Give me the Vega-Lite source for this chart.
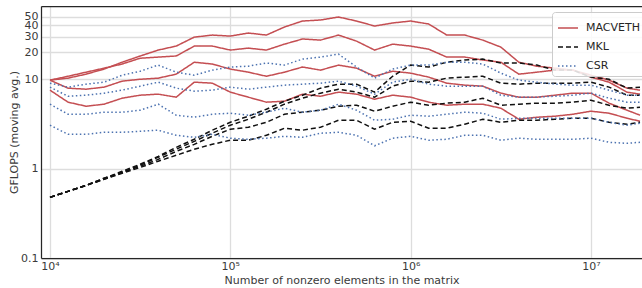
{
"$schema":"https://vega.github.io/schema/vega-lite/v6.json",
"width":601,"height":252,
"autosize":{"type":"none"},
"padding":{"left":41,"top":6,"right":0,"bottom":30},
"background":"white",
"config":{"view":{"stroke":null},"font":"DejaVu Sans",
"axis":{"labelFont":"DejaVu Sans","titleFont":"DejaVu Sans","labelFontSize":11,"titleFontSize":11,"titleFontWeight":"normal","labelColor":"#3a3a3a","titleColor":"#3a3a3a","gridColor":"#dddddd","gridWidth":1.3,"domainColor":"#262626","domainWidth":1.25,"ticks":false}},
"datasets":{"pts":[
{"lib":"MACVETH","s":"M1","n":10000,"g":9.77},{"lib":"MACVETH","s":"M1","n":12589,"g":10.29},{"lib":"MACVETH","s":"M1","n":15849,"g":11.4},{"lib":"MACVETH","s":"M1","n":19953,"g":13.0},{"lib":"MACVETH","s":"M1","n":25119,"g":15.5},{"lib":"MACVETH","s":"M1","n":31623,"g":18.2},{"lib":"MACVETH","s":"M1","n":39811,"g":21.2},{"lib":"MACVETH","s":"M1","n":50119,"g":23.5},{"lib":"MACVETH","s":"M1","n":63096,"g":29.6},{"lib":"MACVETH","s":"M1","n":79433,"g":31.2},{"lib":"MACVETH","s":"M1","n":100000,"g":30.4},{"lib":"MACVETH","s":"M1","n":125893,"g":32.9},{"lib":"MACVETH","s":"M1","n":158489,"g":31.2},{"lib":"MACVETH","s":"M1","n":199526,"g":38.4},{"lib":"MACVETH","s":"M1","n":251189,"g":44.8},{"lib":"MACVETH","s":"M1","n":316228,"g":46.0},{"lib":"MACVETH","s":"M1","n":398107,"g":49.7},{"lib":"MACVETH","s":"M1","n":501187,"g":44.8},{"lib":"MACVETH","s":"M1","n":630957,"g":39.4},{"lib":"MACVETH","s":"M1","n":794328,"g":42.6},{"lib":"MACVETH","s":"M1","n":1000000,"g":44.8},{"lib":"MACVETH","s":"M1","n":1258925,"g":41.5},{"lib":"MACVETH","s":"M1","n":1584893,"g":31.2},{"lib":"MACVETH","s":"M1","n":1995262,"g":31.2},{"lib":"MACVETH","s":"M1","n":2511886,"g":27.4},{"lib":"MACVETH","s":"M1","n":3162278,"g":22.9},{"lib":"MACVETH","s":"M1","n":3981072,"g":15.5},{"lib":"MACVETH","s":"M1","n":5011872,"g":14.0},{"lib":"MACVETH","s":"M1","n":6309573,"g":13.3},{"lib":"MACVETH","s":"M1","n":7943282,"g":12.65},{"lib":"MACVETH","s":"M1","n":10000000,"g":11.1},{"lib":"MACVETH","s":"M1","n":12589254,"g":9.77},{"lib":"MACVETH","s":"M1","n":15848932,"g":7.95},{"lib":"MACVETH","s":"M1","n":18700000,"g":7.55},
{"lib":"MACVETH","s":"M2","n":10000,"g":9.77},{"lib":"MACVETH","s":"M2","n":12589,"g":10.8},{"lib":"MACVETH","s":"M2","n":15849,"g":12.0},{"lib":"MACVETH","s":"M2","n":19953,"g":13.3},{"lib":"MACVETH","s":"M2","n":25119,"g":14.8},{"lib":"MACVETH","s":"M2","n":31623,"g":17.2},{"lib":"MACVETH","s":"M2","n":39811,"g":17.7},{"lib":"MACVETH","s":"M2","n":50119,"g":18.2},{"lib":"MACVETH","s":"M2","n":63096,"g":23.5},{"lib":"MACVETH","s":"M2","n":79433,"g":23.5},{"lib":"MACVETH","s":"M2","n":100000,"g":21.2},{"lib":"MACVETH","s":"M2","n":125893,"g":22.3},{"lib":"MACVETH","s":"M2","n":158489,"g":21.2},{"lib":"MACVETH","s":"M2","n":199526,"g":24.7},{"lib":"MACVETH","s":"M2","n":251189,"g":28.2},{"lib":"MACVETH","s":"M2","n":316228,"g":27.4},{"lib":"MACVETH","s":"M2","n":398107,"g":31.2},{"lib":"MACVETH","s":"M2","n":501187,"g":26.7},{"lib":"MACVETH","s":"M2","n":630957,"g":21.2},{"lib":"MACVETH","s":"M2","n":794328,"g":24.7},{"lib":"MACVETH","s":"M2","n":1000000,"g":23.5},{"lib":"MACVETH","s":"M2","n":1258925,"g":21.7},{"lib":"MACVETH","s":"M2","n":1584893,"g":17.7},{"lib":"MACVETH","s":"M2","n":1995262,"g":17.7},{"lib":"MACVETH","s":"M2","n":2511886,"g":16.4},{"lib":"MACVETH","s":"M2","n":3162278,"g":15.5},{"lib":"MACVETH","s":"M2","n":3981072,"g":11.4},{"lib":"MACVETH","s":"M2","n":5011872,"g":12.0},{"lib":"MACVETH","s":"M2","n":6309573,"g":12.65},{"lib":"MACVETH","s":"M2","n":7943282,"g":12.65},{"lib":"MACVETH","s":"M2","n":10000000,"g":10.56},{"lib":"MACVETH","s":"M2","n":12589254,"g":9.28},{"lib":"MACVETH","s":"M2","n":15848932,"g":7.17},{"lib":"MACVETH","s":"M2","n":18700000,"g":6.81},
{"lib":"MACVETH","s":"M3","n":10000,"g":9.77},{"lib":"MACVETH","s":"M3","n":12589,"g":7.95},{"lib":"MACVETH","s":"M3","n":15849,"g":7.74},{"lib":"MACVETH","s":"M3","n":19953,"g":8.16},{"lib":"MACVETH","s":"M3","n":25119,"g":9.52},{"lib":"MACVETH","s":"M3","n":31623,"g":10.0},{"lib":"MACVETH","s":"M3","n":39811,"g":10.29},{"lib":"MACVETH","s":"M3","n":50119,"g":11.4},{"lib":"MACVETH","s":"M3","n":63096,"g":15.5},{"lib":"MACVETH","s":"M3","n":79433,"g":14.8},{"lib":"MACVETH","s":"M3","n":100000,"g":13.0},{"lib":"MACVETH","s":"M3","n":125893,"g":12.0},{"lib":"MACVETH","s":"M3","n":158489,"g":10.8},{"lib":"MACVETH","s":"M3","n":199526,"g":12.0},{"lib":"MACVETH","s":"M3","n":251189,"g":13.7},{"lib":"MACVETH","s":"M3","n":316228,"g":12.65},{"lib":"MACVETH","s":"M3","n":398107,"g":14.4},{"lib":"MACVETH","s":"M3","n":501187,"g":13.3},{"lib":"MACVETH","s":"M3","n":630957,"g":10.8},{"lib":"MACVETH","s":"M3","n":794328,"g":12.3},{"lib":"MACVETH","s":"M3","n":1000000,"g":11.7},{"lib":"MACVETH","s":"M3","n":1258925,"g":10.56},{"lib":"MACVETH","s":"M3","n":1584893,"g":9.04},{"lib":"MACVETH","s":"M3","n":1995262,"g":8.59},{"lib":"MACVETH","s":"M3","n":2511886,"g":8.37},{"lib":"MACVETH","s":"M3","n":3162278,"g":6.99},{"lib":"MACVETH","s":"M3","n":3981072,"g":6.30},{"lib":"MACVETH","s":"M3","n":5011872,"g":6.30},{"lib":"MACVETH","s":"M3","n":6309573,"g":6.63},{"lib":"MACVETH","s":"M3","n":7943282,"g":6.99},{"lib":"MACVETH","s":"M3","n":10000000,"g":6.99},{"lib":"MACVETH","s":"M3","n":12589254,"g":5.40},{"lib":"MACVETH","s":"M3","n":15848932,"g":4.50},{"lib":"MACVETH","s":"M3","n":18700000,"g":3.96},
{"lib":"MACVETH","s":"M4","n":10000,"g":7.55},{"lib":"MACVETH","s":"M4","n":12589,"g":5.54},{"lib":"MACVETH","s":"M4","n":15849,"g":4.99},{"lib":"MACVETH","s":"M4","n":19953,"g":5.26},{"lib":"MACVETH","s":"M4","n":25119,"g":6.14},{"lib":"MACVETH","s":"M4","n":31623,"g":6.63},{"lib":"MACVETH","s":"M4","n":39811,"g":6.81},{"lib":"MACVETH","s":"M4","n":50119,"g":6.30},{"lib":"MACVETH","s":"M4","n":63096,"g":9.28},{"lib":"MACVETH","s":"M4","n":79433,"g":9.04},{"lib":"MACVETH","s":"M4","n":100000,"g":7.17},{"lib":"MACVETH","s":"M4","n":125893,"g":6.30},{"lib":"MACVETH","s":"M4","n":158489,"g":5.54},{"lib":"MACVETH","s":"M4","n":199526,"g":5.68},{"lib":"MACVETH","s":"M4","n":251189,"g":6.81},{"lib":"MACVETH","s":"M4","n":316228,"g":6.46},{"lib":"MACVETH","s":"M4","n":398107,"g":7.17},{"lib":"MACVETH","s":"M4","n":501187,"g":6.81},{"lib":"MACVETH","s":"M4","n":630957,"g":5.98},{"lib":"MACVETH","s":"M4","n":794328,"g":6.63},{"lib":"MACVETH","s":"M4","n":1000000,"g":6.30},{"lib":"MACVETH","s":"M4","n":1258925,"g":5.54},{"lib":"MACVETH","s":"M4","n":1584893,"g":5.12},{"lib":"MACVETH","s":"M4","n":1995262,"g":5.26},{"lib":"MACVETH","s":"M4","n":2511886,"g":5.26},{"lib":"MACVETH","s":"M4","n":3162278,"g":4.74},{"lib":"MACVETH","s":"M4","n":3981072,"g":3.57},{"lib":"MACVETH","s":"M4","n":5011872,"g":3.76},{"lib":"MACVETH","s":"M4","n":6309573,"g":3.86},{"lib":"MACVETH","s":"M4","n":7943282,"g":4.06},{"lib":"MACVETH","s":"M4","n":10000000,"g":4.39},{"lib":"MACVETH","s":"M4","n":12589254,"g":4.17},{"lib":"MACVETH","s":"M4","n":15848932,"g":3.66},{"lib":"MACVETH","s":"M4","n":18700000,"g":3.39},
{"lib":"MKL","s":"K1","n":10000,"g":0.477},{"lib":"MKL","s":"K1","n":12589,"g":0.557},{"lib":"MKL","s":"K1","n":15849,"g":0.650},{"lib":"MKL","s":"K1","n":19953,"g":0.779},{"lib":"MKL","s":"K1","n":25119,"g":0.933},{"lib":"MKL","s":"K1","n":31623,"g":1.12},{"lib":"MKL","s":"K1","n":39811,"g":1.37},{"lib":"MKL","s":"K1","n":50119,"g":1.73},{"lib":"MKL","s":"K1","n":63096,"g":2.13},{"lib":"MKL","s":"K1","n":79433,"g":2.69},{"lib":"MKL","s":"K1","n":100000,"g":3.30},{"lib":"MKL","s":"K1","n":125893,"g":3.86},{"lib":"MKL","s":"K1","n":158489,"g":4.62},{"lib":"MKL","s":"K1","n":199526,"g":5.68},{"lib":"MKL","s":"K1","n":251189,"g":6.63},{"lib":"MKL","s":"K1","n":316228,"g":7.95},{"lib":"MKL","s":"K1","n":398107,"g":8.81},{"lib":"MKL","s":"K1","n":501187,"g":8.81},{"lib":"MKL","s":"K1","n":630957,"g":7.17},{"lib":"MKL","s":"K1","n":794328,"g":10.8},{"lib":"MKL","s":"K1","n":1000000,"g":14.4},{"lib":"MKL","s":"K1","n":1258925,"g":13.7},{"lib":"MKL","s":"K1","n":1584893,"g":15.5},{"lib":"MKL","s":"K1","n":1995262,"g":16.4},{"lib":"MKL","s":"K1","n":2511886,"g":16.8},{"lib":"MKL","s":"K1","n":3162278,"g":15.2},{"lib":"MKL","s":"K1","n":3981072,"g":15.2},{"lib":"MKL","s":"K1","n":5011872,"g":14.4},{"lib":"MKL","s":"K1","n":6309573,"g":12.65},{"lib":"MKL","s":"K1","n":7943282,"g":12.65},{"lib":"MKL","s":"K1","n":10000000,"g":10.56},{"lib":"MKL","s":"K1","n":12589254,"g":10.0},{"lib":"MKL","s":"K1","n":15848932,"g":7.95},{"lib":"MKL","s":"K1","n":18700000,"g":8.16},
{"lib":"MKL","s":"K2","n":10000,"g":0.477},{"lib":"MKL","s":"K2","n":12589,"g":0.557},{"lib":"MKL","s":"K2","n":15849,"g":0.650},{"lib":"MKL","s":"K2","n":19953,"g":0.779},{"lib":"MKL","s":"K2","n":25119,"g":0.909},{"lib":"MKL","s":"K2","n":31623,"g":1.09},{"lib":"MKL","s":"K2","n":39811,"g":1.34},{"lib":"MKL","s":"K2","n":50119,"g":1.65},{"lib":"MKL","s":"K2","n":63096,"g":2.02},{"lib":"MKL","s":"K2","n":79433,"g":2.49},{"lib":"MKL","s":"K2","n":100000,"g":3.06},{"lib":"MKL","s":"K2","n":125893,"g":3.57},{"lib":"MKL","s":"K2","n":158489,"g":4.28},{"lib":"MKL","s":"K2","n":199526,"g":5.26},{"lib":"MKL","s":"K2","n":251189,"g":6.14},{"lib":"MKL","s":"K2","n":316228,"g":6.99},{"lib":"MKL","s":"K2","n":398107,"g":7.74},{"lib":"MKL","s":"K2","n":501187,"g":7.17},{"lib":"MKL","s":"K2","n":630957,"g":6.30},{"lib":"MKL","s":"K2","n":794328,"g":8.37},{"lib":"MKL","s":"K2","n":1000000,"g":9.52},{"lib":"MKL","s":"K2","n":1258925,"g":9.28},{"lib":"MKL","s":"K2","n":1584893,"g":10.29},{"lib":"MKL","s":"K2","n":1995262,"g":10.56},{"lib":"MKL","s":"K2","n":2511886,"g":10.8},{"lib":"MKL","s":"K2","n":3162278,"g":9.04},{"lib":"MKL","s":"K2","n":3981072,"g":8.81},{"lib":"MKL","s":"K2","n":5011872,"g":9.04},{"lib":"MKL","s":"K2","n":6309573,"g":9.04},{"lib":"MKL","s":"K2","n":7943282,"g":9.04},{"lib":"MKL","s":"K2","n":10000000,"g":9.28},{"lib":"MKL","s":"K2","n":12589254,"g":8.16},{"lib":"MKL","s":"K2","n":15848932,"g":6.63},{"lib":"MKL","s":"K2","n":18700000,"g":6.63},
{"lib":"MKL","s":"K3","n":10000,"g":0.477},{"lib":"MKL","s":"K3","n":12589,"g":0.557},{"lib":"MKL","s":"K3","n":15849,"g":0.650},{"lib":"MKL","s":"K3","n":19953,"g":0.759},{"lib":"MKL","s":"K3","n":25119,"g":0.909},{"lib":"MKL","s":"K3","n":31623,"g":1.06},{"lib":"MKL","s":"K3","n":39811,"g":1.27},{"lib":"MKL","s":"K3","n":50119,"g":1.56},{"lib":"MKL","s":"K3","n":63096,"g":1.87},{"lib":"MKL","s":"K3","n":79433,"g":2.30},{"lib":"MKL","s":"K3","n":100000,"g":2.76},{"lib":"MKL","s":"K3","n":125893,"g":2.90},{"lib":"MKL","s":"K3","n":158489,"g":3.30},{"lib":"MKL","s":"K3","n":199526,"g":4.06},{"lib":"MKL","s":"K3","n":251189,"g":4.28},{"lib":"MKL","s":"K3","n":316228,"g":4.50},{"lib":"MKL","s":"K3","n":398107,"g":4.99},{"lib":"MKL","s":"K3","n":501187,"g":5.12},{"lib":"MKL","s":"K3","n":630957,"g":4.39},{"lib":"MKL","s":"K3","n":794328,"g":4.99},{"lib":"MKL","s":"K3","n":1000000,"g":5.54},{"lib":"MKL","s":"K3","n":1258925,"g":5.12},{"lib":"MKL","s":"K3","n":1584893,"g":5.40},{"lib":"MKL","s":"K3","n":1995262,"g":5.54},{"lib":"MKL","s":"K3","n":2511886,"g":6.14},{"lib":"MKL","s":"K3","n":3162278,"g":5.12},{"lib":"MKL","s":"K3","n":3981072,"g":5.26},{"lib":"MKL","s":"K3","n":5011872,"g":5.40},{"lib":"MKL","s":"K3","n":6309573,"g":5.40},{"lib":"MKL","s":"K3","n":7943282,"g":5.54},{"lib":"MKL","s":"K3","n":10000000,"g":5.83},{"lib":"MKL","s":"K3","n":12589254,"g":5.12},{"lib":"MKL","s":"K3","n":15848932,"g":4.74},{"lib":"MKL","s":"K3","n":18700000,"g":4.87},
{"lib":"MKL","s":"K4","n":10000,"g":0.477},{"lib":"MKL","s":"K4","n":12589,"g":0.557},{"lib":"MKL","s":"K4","n":15849,"g":0.650},{"lib":"MKL","s":"K4","n":19953,"g":0.759},{"lib":"MKL","s":"K4","n":25119,"g":0.886},{"lib":"MKL","s":"K4","n":31623,"g":1.03},{"lib":"MKL","s":"K4","n":39811,"g":1.21},{"lib":"MKL","s":"K4","n":50119,"g":1.41},{"lib":"MKL","s":"K4","n":63096,"g":1.65},{"lib":"MKL","s":"K4","n":79433,"g":1.87},{"lib":"MKL","s":"K4","n":100000,"g":2.08},{"lib":"MKL","s":"K4","n":125893,"g":2.08},{"lib":"MKL","s":"K4","n":158489,"g":2.36},{"lib":"MKL","s":"K4","n":199526,"g":2.83},{"lib":"MKL","s":"K4","n":251189,"g":2.69},{"lib":"MKL","s":"K4","n":316228,"g":2.90},{"lib":"MKL","s":"K4","n":398107,"g":3.48},{"lib":"MKL","s":"K4","n":501187,"g":3.48},{"lib":"MKL","s":"K4","n":630957,"g":2.76},{"lib":"MKL","s":"K4","n":794328,"g":3.30},{"lib":"MKL","s":"K4","n":1000000,"g":3.39},{"lib":"MKL","s":"K4","n":1258925,"g":2.83},{"lib":"MKL","s":"K4","n":1584893,"g":2.83},{"lib":"MKL","s":"K4","n":1995262,"g":3.14},{"lib":"MKL","s":"K4","n":2511886,"g":3.57},{"lib":"MKL","s":"K4","n":3162278,"g":3.30},{"lib":"MKL","s":"K4","n":3981072,"g":3.48},{"lib":"MKL","s":"K4","n":5011872,"g":3.48},{"lib":"MKL","s":"K4","n":6309573,"g":3.57},{"lib":"MKL","s":"K4","n":7943282,"g":3.66},{"lib":"MKL","s":"K4","n":10000000,"g":3.66},{"lib":"MKL","s":"K4","n":12589254,"g":3.30},{"lib":"MKL","s":"K4","n":15848932,"g":3.14},{"lib":"MKL","s":"K4","n":18700000,"g":3.30},
{"lib":"CSR","s":"C1","n":10000,"g":9.04},{"lib":"CSR","s":"C1","n":12589,"g":8.16},{"lib":"CSR","s":"C1","n":15849,"g":8.81},{"lib":"CSR","s":"C1","n":19953,"g":9.28},{"lib":"CSR","s":"C1","n":25119,"g":11.1},{"lib":"CSR","s":"C1","n":31623,"g":12.3},{"lib":"CSR","s":"C1","n":39811,"g":14.4},{"lib":"CSR","s":"C1","n":50119,"g":12.0},{"lib":"CSR","s":"C1","n":63096,"g":11.1},{"lib":"CSR","s":"C1","n":79433,"g":12.65},{"lib":"CSR","s":"C1","n":100000,"g":13.7},{"lib":"CSR","s":"C1","n":125893,"g":14.0},{"lib":"CSR","s":"C1","n":158489,"g":15.2},{"lib":"CSR","s":"C1","n":199526,"g":14.4},{"lib":"CSR","s":"C1","n":251189,"g":16.8},{"lib":"CSR","s":"C1","n":316228,"g":17.7},{"lib":"CSR","s":"C1","n":398107,"g":19.1},{"lib":"CSR","s":"C1","n":501187,"g":13.7},{"lib":"CSR","s":"C1","n":630957,"g":10.29},{"lib":"CSR","s":"C1","n":794328,"g":13.0},{"lib":"CSR","s":"C1","n":1000000,"g":14.4},{"lib":"CSR","s":"C1","n":1258925,"g":14.4},{"lib":"CSR","s":"C1","n":1584893,"g":15.5},{"lib":"CSR","s":"C1","n":1995262,"g":15.5},{"lib":"CSR","s":"C1","n":2511886,"g":14.8},{"lib":"CSR","s":"C1","n":3162278,"g":11.7},{"lib":"CSR","s":"C1","n":3981072,"g":9.77},{"lib":"CSR","s":"C1","n":5011872,"g":9.28},{"lib":"CSR","s":"C1","n":6309573,"g":8.81},{"lib":"CSR","s":"C1","n":7943282,"g":8.59},{"lib":"CSR","s":"C1","n":10000000,"g":8.59},{"lib":"CSR","s":"C1","n":12589254,"g":7.55},{"lib":"CSR","s":"C1","n":15848932,"g":6.63},{"lib":"CSR","s":"C1","n":18700000,"g":6.63},
{"lib":"CSR","s":"C2","n":10000,"g":8.16},{"lib":"CSR","s":"C2","n":12589,"g":6.46},{"lib":"CSR","s":"C2","n":15849,"g":6.63},{"lib":"CSR","s":"C2","n":19953,"g":6.99},{"lib":"CSR","s":"C2","n":25119,"g":7.55},{"lib":"CSR","s":"C2","n":31623,"g":8.37},{"lib":"CSR","s":"C2","n":39811,"g":9.28},{"lib":"CSR","s":"C2","n":50119,"g":7.95},{"lib":"CSR","s":"C2","n":63096,"g":7.36},{"lib":"CSR","s":"C2","n":79433,"g":7.55},{"lib":"CSR","s":"C2","n":100000,"g":8.16},{"lib":"CSR","s":"C2","n":125893,"g":7.74},{"lib":"CSR","s":"C2","n":158489,"g":8.16},{"lib":"CSR","s":"C2","n":199526,"g":8.59},{"lib":"CSR","s":"C2","n":251189,"g":8.81},{"lib":"CSR","s":"C2","n":316228,"g":9.04},{"lib":"CSR","s":"C2","n":398107,"g":9.52},{"lib":"CSR","s":"C2","n":501187,"g":8.37},{"lib":"CSR","s":"C2","n":630957,"g":6.81},{"lib":"CSR","s":"C2","n":794328,"g":9.28},{"lib":"CSR","s":"C2","n":1000000,"g":10.0},{"lib":"CSR","s":"C2","n":1258925,"g":8.81},{"lib":"CSR","s":"C2","n":1584893,"g":8.37},{"lib":"CSR","s":"C2","n":1995262,"g":8.37},{"lib":"CSR","s":"C2","n":2511886,"g":8.37},{"lib":"CSR","s":"C2","n":3162278,"g":6.63},{"lib":"CSR","s":"C2","n":3981072,"g":6.30},{"lib":"CSR","s":"C2","n":5011872,"g":6.30},{"lib":"CSR","s":"C2","n":6309573,"g":6.46},{"lib":"CSR","s":"C2","n":7943282,"g":6.63},{"lib":"CSR","s":"C2","n":10000000,"g":6.99},{"lib":"CSR","s":"C2","n":12589254,"g":6.14},{"lib":"CSR","s":"C2","n":15848932,"g":5.54},{"lib":"CSR","s":"C2","n":18700000,"g":5.54},
{"lib":"CSR","s":"C3","n":10000,"g":5.26},{"lib":"CSR","s":"C3","n":12589,"g":4.06},{"lib":"CSR","s":"C3","n":15849,"g":4.06},{"lib":"CSR","s":"C3","n":19953,"g":4.28},{"lib":"CSR","s":"C3","n":25119,"g":4.28},{"lib":"CSR","s":"C3","n":31623,"g":4.50},{"lib":"CSR","s":"C3","n":39811,"g":5.26},{"lib":"CSR","s":"C3","n":50119,"g":3.96},{"lib":"CSR","s":"C3","n":63096,"g":3.76},{"lib":"CSR","s":"C3","n":79433,"g":4.06},{"lib":"CSR","s":"C3","n":100000,"g":4.17},{"lib":"CSR","s":"C3","n":125893,"g":3.96},{"lib":"CSR","s":"C3","n":158489,"g":4.28},{"lib":"CSR","s":"C3","n":199526,"g":4.74},{"lib":"CSR","s":"C3","n":251189,"g":4.28},{"lib":"CSR","s":"C3","n":316228,"g":4.50},{"lib":"CSR","s":"C3","n":398107,"g":5.26},{"lib":"CSR","s":"C3","n":501187,"g":4.50},{"lib":"CSR","s":"C3","n":630957,"g":3.48},{"lib":"CSR","s":"C3","n":794328,"g":3.57},{"lib":"CSR","s":"C3","n":1000000,"g":3.96},{"lib":"CSR","s":"C3","n":1258925,"g":3.86},{"lib":"CSR","s":"C3","n":1584893,"g":4.06},{"lib":"CSR","s":"C3","n":1995262,"g":4.28},{"lib":"CSR","s":"C3","n":2511886,"g":4.17},{"lib":"CSR","s":"C3","n":3162278,"g":3.57},{"lib":"CSR","s":"C3","n":3981072,"g":3.66},{"lib":"CSR","s":"C3","n":5011872,"g":3.66},{"lib":"CSR","s":"C3","n":6309573,"g":3.66},{"lib":"CSR","s":"C3","n":7943282,"g":3.66},{"lib":"CSR","s":"C3","n":10000000,"g":3.66},{"lib":"CSR","s":"C3","n":12589254,"g":3.30},{"lib":"CSR","s":"C3","n":15848932,"g":3.06},{"lib":"CSR","s":"C3","n":18700000,"g":3.22},
{"lib":"CSR","s":"C4","n":10000,"g":3.06},{"lib":"CSR","s":"C4","n":12589,"g":2.42},{"lib":"CSR","s":"C4","n":15849,"g":2.42},{"lib":"CSR","s":"C4","n":19953,"g":2.55},{"lib":"CSR","s":"C4","n":25119,"g":2.55},{"lib":"CSR","s":"C4","n":31623,"g":2.62},{"lib":"CSR","s":"C4","n":39811,"g":2.69},{"lib":"CSR","s":"C4","n":50119,"g":2.36},{"lib":"CSR","s":"C4","n":63096,"g":2.24},{"lib":"CSR","s":"C4","n":79433,"g":2.42},{"lib":"CSR","s":"C4","n":100000,"g":2.19},{"lib":"CSR","s":"C4","n":125893,"g":2.13},{"lib":"CSR","s":"C4","n":158489,"g":2.19},{"lib":"CSR","s":"C4","n":199526,"g":2.30},{"lib":"CSR","s":"C4","n":251189,"g":2.24},{"lib":"CSR","s":"C4","n":316228,"g":2.49},{"lib":"CSR","s":"C4","n":398107,"g":2.55},{"lib":"CSR","s":"C4","n":501187,"g":2.36},{"lib":"CSR","s":"C4","n":630957,"g":1.8},{"lib":"CSR","s":"C4","n":794328,"g":2.19},{"lib":"CSR","s":"C4","n":1000000,"g":2.30},{"lib":"CSR","s":"C4","n":1258925,"g":2.08},{"lib":"CSR","s":"C4","n":1584893,"g":2.13},{"lib":"CSR","s":"C4","n":1995262,"g":2.36},{"lib":"CSR","s":"C4","n":2511886,"g":2.36},{"lib":"CSR","s":"C4","n":3162278,"g":2.08},{"lib":"CSR","s":"C4","n":3981072,"g":2.19},{"lib":"CSR","s":"C4","n":5011872,"g":2.13},{"lib":"CSR","s":"C4","n":6309573,"g":2.13},{"lib":"CSR","s":"C4","n":7943282,"g":2.13},{"lib":"CSR","s":"C4","n":10000000,"g":2.19},{"lib":"CSR","s":"C4","n":12589254,"g":1.97},{"lib":"CSR","s":"C4","n":15848932,"g":1.92},{"lib":"CSR","s":"C4","n":18700000,"g":1.97}
]},
"data":{"name":"pts"},
"resolve":{"axis":{"x":"independent"}},
"layer":[
{"mark":{"type":"line","strokeWidth":1.5,"clip":true},
"encoding":{
"x":{"field":"n","type":"quantitative","scale":{"type":"log","domain":[8915,19180000],"nice":false},
"axis":{"orient":"bottom","values":[10000,100000,1000000,10000000],"labelExpr":"'10' + ['⁴','⁵','⁶','⁷'][round(log(datum.value)/LN10) - 4]","labelPadding":2,"grid":true,"title":"Number of nonzero elements in the matrix","titlePadding":3}},
"y":{"field":"g","type":"quantitative","scale":{"type":"log","domain":[0.1,66],"nice":false},
"axis":{"values":[0.1,1,10,20,30,40,50],"format":"~g","labelPadding":3,"labelOverlap":false,"grid":true,"title":"GFLOPS (moving avg.)","titlePadding":1}},
"color":{"field":"lib","type":"nominal","scale":{"domain":["MACVETH","MKL","CSR"],"range":["#c44e52","#111111","#4c72b0"]},
"legend":{"title":null,"orient":"none","legendX":511,"legendY":6,"fillColor":"rgba(255,255,255,0.85)","strokeColor":"#cccccc","padding":5,"cornerRadius":3,"labelFontSize":11,"labelColor":"#262626","symbolType":"stroke","symbolSize":400,"symbolStrokeWidth":1.5,"labelOffset":7,"rowPadding":3}},
"strokeDash":{"field":"lib","type":"nominal","scale":{"domain":["MACVETH","MKL","CSR"],"range":[[1,0],[5,3],[1.5,2.5]]}},
"detail":{"field":"s","type":"nominal"}}},
{"mark":{"type":"line","opacity":0},
"encoding":{
"x":{"field":"n","type":"quantitative","scale":{"type":"log","domain":[8915,19180000],"nice":false},
"axis":{"orient":"top","labels":false,"ticks":false,"grid":false,"title":null,"domain":true}},
"y":{"field":"g","type":"quantitative"},
"detail":{"field":"s","type":"nominal"}}}
]
}
